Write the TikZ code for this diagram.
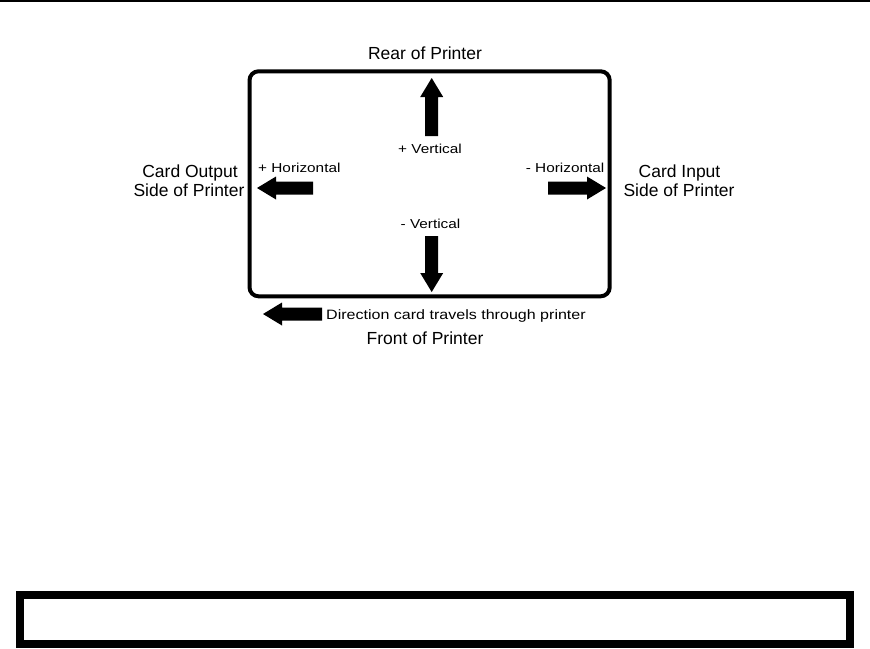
\documentclass[tikz,border=0pt]{standalone}
\usepackage{fontspec}
\setmainfont{Liberation Sans}
\newfontfamily\smallf[FakeStretch=1.18]{Liberation Sans}
\begin{document}
\begin{tikzpicture}[x=1pt,y=-1pt,
  biglabel/.style={inner sep=0pt,anchor=base,font=\fontsize{17.5}{19}\selectfont},
  smalllabel/.style={inner sep=0pt,font=\smallf\fontsize{13}{15}\selectfont},
  pics/blockarr/.style={code={\fill[black] (0,0) -- (-19,11.5) -- (-19,6.5) -- (-#1,6.5) -- (-#1,-6.5) -- (-19,-6.5) -- (-19,-11.5) -- cycle;}}]
\useasboundingbox (0,0) rectangle (870,648);
% top rule
\draw[line width=1.8pt] (0,0.9) -- (870,0.9);
% card outline
\draw[line width=4pt,rounded corners=9pt] (249.5,71.3) rectangle (609.7,296.3);
% arrows
\pic[rotate=90] at (431.7,78) {blockarr=58};
\pic[rotate=-90] at (431.7,292) {blockarr=56};
\pic[rotate=180] at (257,188) {blockarr=56};
\pic at (606,188) {blockarr=58};
\pic[rotate=180] at (263,314) {blockarr=59};
% labels
\node[biglabel] (rear) at (425,59.3) {Rear of Printer};
\node[biglabel] (outa) at (190,177.7) {Card Output};
\node[biglabel] (outb) at (189,196.7) {Side of Printer};
\node[biglabel] (ina) at (679.5,177.7) {Card Input};
\node[biglabel] (inb) at (679,196.7) {Side of Printer};
\node[biglabel] (front) at (425,344) {Front of Printer};
\node[smalllabel,anchor=base] (pv) at (430,153.8) {+ Vertical};
\node[smalllabel,anchor=base] (mv) at (430.5,228.5) {- Vertical};
\node[smalllabel,anchor=base west] (ph) at (258,172.5) {+ Horizontal};
\node[smalllabel,anchor=base east] (mh) at (604.5,172.5) {- Horizontal};
\node[smalllabel,anchor=base west,font=\smallf\fontsize{13.6}{15}\selectfont] (dir) at (326,319) {Direction card travels through printer};
% bottom box
\draw[line width=7.6pt] (19.8,594.8) rectangle (850.2,643.9);
\end{tikzpicture}
\end{document}
